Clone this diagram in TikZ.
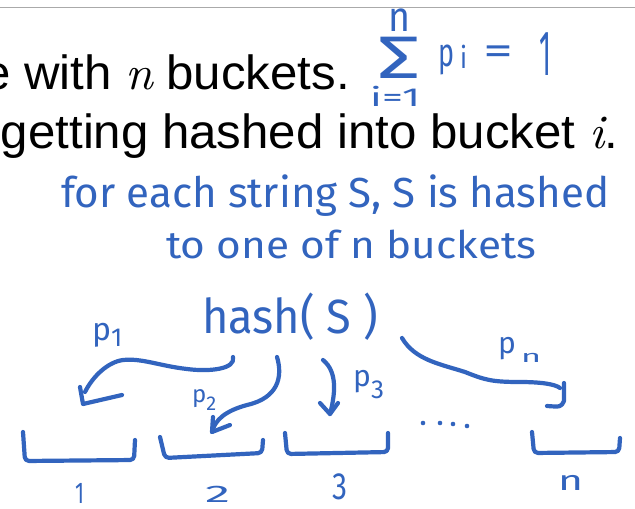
\documentclass[tikz,border=0pt]{standalone}
\usepackage{fontspec}
\setmainfont{Liberation Sans}
\newfontfamily\handfont{Fira Sans}
\newfontfamily\lmit{lmroman10-italic}[Extension=.otf]
\usepackage{graphicx}
\definecolor{ink}{RGB}{50,100,190}
\definecolor{rulegray}{RGB}{170,170,170}
\newcommand\fitto[2]{\resizebox{#1}{\height}{#2}}
\newcommand\hs[1]{\fontsize{#1}{#1}\selectfont}
\tikzset{
  pen/.style={draw=ink, line width=4.2pt, line cap=round, line join=round},
  slide/.style={anchor=base east, inner sep=0pt, text=black},
  hand/.style={anchor=base west, inner sep=0pt, text=ink, font=\handfont},
}
\begin{document}
\begin{tikzpicture}[x=1pt,y=-1pt]
\fill[white] (0,0) rectangle (635,509);
\useasboundingbox (0,0) rectangle (635,509);
% top rule
\coordinate (rl) at (0,7.5);
\coordinate (rr) at (635,7.5);
\draw[rulegray, line width=1.5pt] (rl) -- (rr);
% slide text
\node[slide] (l1) at (350,89) {\scalebox{1.025}[1]{\hs{48}e with {\lmit n} buckets.}};
\node[slide] (l2) at (618,148) {\scalebox{1.025}[1]{\hs{48}getting hashed into bucket {\lmit i}.}};
% sum formula
\node[hand] (sig) at (377,78) {\fitto{43pt}{\hs{60}Σ}};
\node[hand] (sn) at (388,31) {\fitto{22pt}{\hs{42}n}};
\node[hand] (si) at (370,106) {\fitto{50pt}{\hs{26}i=1}};
\node[hand] (sp) at (438,66) {\fitto{16pt}{\hs{40}p}};
\node[hand] (spi) at (460,68) {\fitto{7pt}{\hs{30}i}};
\node[hand] (seq) at (483,64) {\fitto{30pt}{\hs{40}=}};
\node[hand] (sone) at (539,75) {\fitto{12pt}{\hs{64}1}};
% handwritten lines
\node[hand] (h1) at (61,207) {\fitto{548pt}{\hs{42}for each string S, S is hashed}};
\node[hand] (h2) at (166,258) {\fitto{370pt}{\hs{38}to one of n buckets}};
\node[hand] (hash) at (202,333) {\fitto{176pt}{\hs{48}hash( S )}};
% probability labels
\node[hand] (p1) at (92,340) {\hs{32}p\raisebox{-6pt}{\hs{26}1}};
\node[hand] (p2) at (192,402) {\hs{24}p\raisebox{-8pt}{\hs{20}2}};
\node[hand] (p3) at (353,386) {\hs{30}p\raisebox{-12pt}{\hs{26}3}};
\node[hand] (pn) at (498,353) {\hs{30}p\,\raisebox{-9pt}{\fitto{20pt}{\hs{17}n}}};
% bucket numbers
\node[hand] (n1) at (75,503) {\fitto{9pt}{\hs{30}1}};
\node[hand] (n2) at (205,502) {\fitto{25pt}{\hs{24}2}};
\node[hand] (n3) at (332,499) {\fitto{15pt}{\hs{38}3}};
\node[hand] (nn) at (558,490) {\fitto{25pt}{\hs{28}n}};
% buckets
\coordinate (b1a) at (23,432); \coordinate (b1b) at (25,461);
\coordinate (b1c) at (134,460); \coordinate (b1d) at (135,440);
\draw[pen, rounded corners=4pt] (b1a) -- (b1b) -- (b1c) -- (b1d);
\coordinate (b2a) at (160,437); \coordinate (b2b) at (165,458);
\coordinate (b2c) at (262,453); \coordinate (b2d) at (263,440);
\draw[pen, rounded corners=4pt] (b2a) -- (b2b) -- (b2c) -- (b2d);
\coordinate (b3a) at (285,433); \coordinate (b3b) at (287,454);
\coordinate (b3c) at (388,452); \coordinate (b3d) at (388,433);
\draw[pen, rounded corners=4pt] (b3a) -- (b3b) -- (b3c) -- (b3d);
\coordinate (bna) at (532,432); \coordinate (bnb) at (534,453);
\coordinate (bnc) at (619,452); \coordinate (bnd) at (620,438);
\draw[pen, rounded corners=4pt] (bna) -- (bnb) -- (bnc) -- (bnd);
% dots
\foreach \x/\y [count=\k] in {423/423, 440/423, 453/424, 467/426}
  \fill[ink] (\x,\y) circle (2.3pt);
% arrow 1
\coordinate (a1s) at (233,357);
\coordinate (a1e) at (85,392);
\coordinate (a1t) at (83,404);
\coordinate (a1l) at (80,387);
\coordinate (a1r) at (122,395);
\draw[pen] (a1s) .. controls (236,369) and (210,372) .. (187,369)
  .. controls (160,366) and (142,358) .. (123,360)
  .. controls (108,362) and (93,376) .. (a1e);
\draw[pen] (a1l) -- (a1t) -- (a1r);
% arrow 2
\coordinate (a2s) at (277,357);
\coordinate (a2t) at (212,432);
\coordinate (a2l) at (213,417);
\coordinate (a2r) at (230,425);
\draw[pen] (a2s) .. controls (283,377) and (278,398) .. (247,405)
  .. controls (225,411) and (215,420) .. (a2t);
\draw[pen] (a2l) -- (a2t) -- (a2r);
% arrow 3
\coordinate (a3s) at (323,360);
\coordinate (a3t) at (330,414);
\coordinate (a3l) at (320,403);
\coordinate (a3r) at (338,403);
\draw[pen] (a3s) .. controls (338,372) and (335,395) .. (a3t);
\draw[pen] (a3l) -- (a3t) -- (a3r);
% arrow n
\coordinate (ans) at (402,338);
\coordinate (ane) at (560,388);
\coordinate (ant) at (564,383);
\coordinate (anb) at (564,401);
\coordinate (anh) at (547,406);
\draw[pen] (ans) .. controls (415,360) and (440,364) .. (465,372)
  .. controls (485,380) and (492,382) .. (520,382)
  .. controls (540,382) and (555,384) .. (ane);
\draw[pen] (ant) -- (anb) .. controls (561,407) .. (anh);
\end{tikzpicture}
\end{document}
